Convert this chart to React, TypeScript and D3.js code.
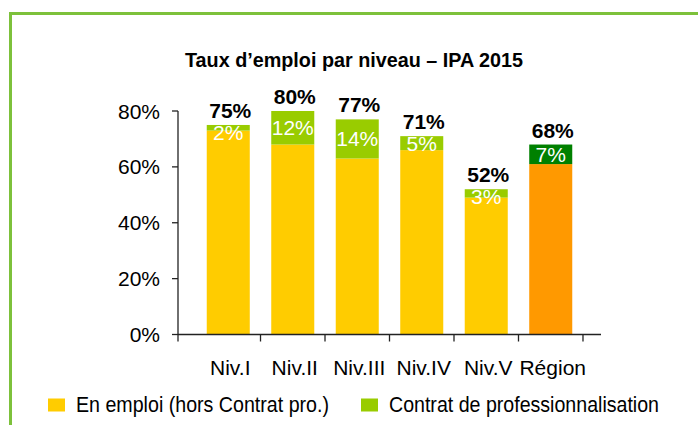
import React, { useEffect, useRef } from 'react';
import * as d3 from 'd3';

const categories = ["Niv.I", "Niv.II", "Niv.III", "Niv.IV", "Niv.V", "Région"];
const emploiHorsContrat = [73, 68, 63, 66, 49, 61];
const contratPro = [2, 12, 14, 5, 3, 7];
const totals = [75, 80, 77, 71, 52, 68];
const yTicks = [0, 20, 40, 60, 80];
const legendLabels = ["En emploi (hors Contrat pro.)", "Contrat de professionnalisation"];

const FONT = "'Liberation Sans', Arial, sans-serif";

export default function App() {
    const ref = useRef<SVGSVGElement>(null);

    useEffect(() => {
        const svg = d3.select(ref.current);
        svg.selectAll("*").remove();

        const x0 = 178, y0 = 334.5;

        let xScale = d3.scaleBand()
            .domain(categories)
            .range([196, 583])
            .paddingInner(0.333)
            .paddingOuter(0.1667);

        let yScale = d3.scaleLinear()
            .domain([0, 80])
            .range([y0, 111]);

        const rows = categories.map((c, i) => ({ cat: c, emploi: emploiHorsContrat[i], contrat: contratPro[i], total: totals[i] }));
        const stacked = d3.stack<any>().keys(["emploi", "contrat"])(rows);

        // frame
        svg.append("path")
            .attr("d", "M10.5,700 V13.5 H720")
            .attr("fill", "none")
            .attr("stroke", "#7dc13b")
            .attr("stroke-width", 3);

        svg.append("text")
            .attr("x", 354)
            .attr("y", 66.7)
            .attr("text-anchor", "middle")
            .attr("textLength", 338)
            .attr("lengthAdjust", "spacingAndGlyphs")
            .style("font-family", FONT)
            .style("font-weight", "bold")
            .style("font-size", "21px")
            .text("Taux d\u2019emploi par niveau \u2013 IPA 2015");

        const colour = (key: string, cat: string) => {
            if (cat === "Région") return key === "emploi" ? "#ff9900" : "#008000";
            return key === "emploi" ? "#ffcc00" : "#99cc00";
        };

        stacked.forEach((layer) => {
            svg.append("g")
                .selectAll("rect")
                .data(layer)
                .join("rect")
                .attr("x", (d: any) => xScale(d.data.cat)!)
                .attr("y", (d) => yScale(d[1]))
                .attr("width", xScale.bandwidth())
                .attr("height", (d) => yScale(d[0]) - yScale(d[1]))
                .attr("fill", (d: any) => colour(layer.key, d.data.cat));
        });

        // axes
        const axis = svg.append("g").attr("stroke", "#222").attr("stroke-width", 1.3);
        axis.append("line").attr("x1", x0).attr("x2", x0).attr("y1", yScale(80)).attr("y2", y0);
        axis.append("line").attr("x1", x0).attr("x2", 601).attr("y1", y0).attr("y2", y0);
        axis.selectAll(".ytick")
            .data(yTicks)
            .join("line")
            .attr("class", "ytick")
            .attr("x1", x0 - 6).attr("x2", x0)
            .attr("y1", (d) => yScale(d)).attr("y2", (d) => yScale(d));

        const half = xScale.step() * xScale.paddingInner() / 2;
        const xTickPos = [x0, ...categories.map((c) => xScale(c)! + xScale.bandwidth() + half)];
        axis.selectAll(".xtick")
            .data(xTickPos)
            .join("line")
            .attr("class", "xtick")
            .attr("x1", (d) => d).attr("x2", (d) => d)
            .attr("y1", y0).attr("y2", y0 + 7);

        svg.append("g")
            .selectAll("text")
            .data(yTicks)
            .join("text")
            .attr("x", 160)
            .attr("y", (d) => yScale(d))
            .attr("dy", "0.36em")
            .attr("text-anchor", "end")
            .style("font-family", FONT)
            .style("font-size", "21px")
            .text((d) => d + "%");

        svg.append("g")
            .selectAll("text")
            .data(categories)
            .join("text")
            .attr("x", (d) => xScale(d)! + xScale.bandwidth() / 2 + 2)
            .attr("y", 375)
            .attr("text-anchor", "middle")
            .style("font-family", FONT)
            .style("font-size", "21px")
            .text((d) => d);

        // total on top of each bar
        svg.append("g")
            .selectAll("text")
            .data(rows)
            .join("text")
            .attr("x", (d) => xScale(d.cat)! + xScale.bandwidth() / 2 + 2)
            .attr("y", (d) => yScale(d.total) - 7)
            .attr("text-anchor", "middle")
            .style("font-family", FONT)
            .style("font-weight", "bold")
            .style("font-size", "21px")
            .text((d) => d.total + "%");

        // contrat pro share inside green part (pushed down a bit when the part is thin)
        svg.append("g")
            .selectAll("text")
            .data(stacked[1])
            .join("text")
            .attr("x", (d: any) => xScale(d.data.cat)! + xScale.bandwidth() / 2)
            .attr("y", (d) => Math.max((yScale(d[0]) + yScale(d[1])) / 2, yScale(d[1]) + 7.5))
            .attr("dy", "0.36em")
            .attr("text-anchor", "middle")
            .attr("fill", "#fff")
            .style("font-family", FONT)
            .style("font-size", "21px")
            .text((d: any) => d.data.contrat + "%");

        const legend = svg.append("g");
        const legendX = [48, 361];
        const legendW = [253, 270];
        legendLabels.forEach((label, i) => {
            legend.append("rect")
                .attr("x", legendX[i]).attr("y", 398.5)
                .attr("width", 17).attr("height", 13)
                .attr("fill", i === 0 ? "#ffcc00" : "#99cc00");
            legend.append("text")
                .attr("x", legendX[i] + 28)
                .attr("y", 412)
                .attr("textLength", legendW[i])
                .attr("lengthAdjust", "spacingAndGlyphs")
                .style("font-family", FONT)
                .style("font-size", "22px")
                .text(label);
        });
    }, []);

    return (
        <svg ref={ref} width={698} height={425}
            style={{ position: "absolute", left: 0, top: 0, background: "#fff" }}></svg>
    );
}
